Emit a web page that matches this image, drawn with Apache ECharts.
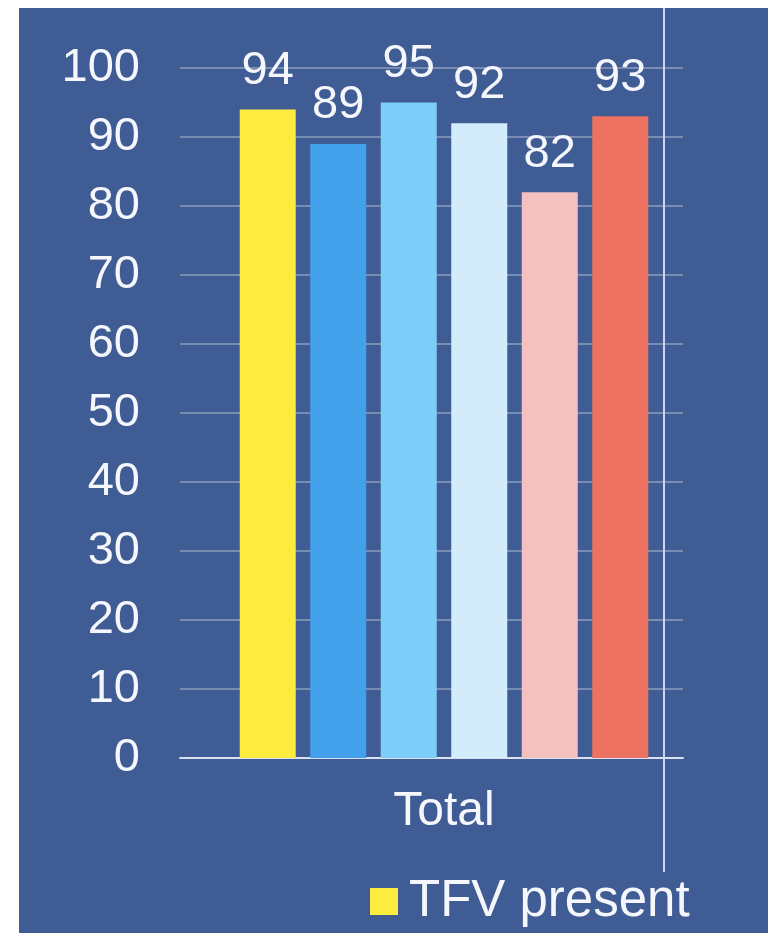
<!DOCTYPE html>
<html>
<head>
<meta charset="utf-8">
<script src="https://cdn.jsdelivr.net/npm/echarts@6/dist/echarts.min.js"></script>
<style>
  html, body { margin: 0; padding: 0; background: #ffffff; width: 777px; height: 933px; overflow: hidden; }
  #chart { position: absolute; left: 19px; top: 8px; width: 749px; height: 925px; }
</style>
</head>
<body>
<div id="chart"></div>
<script>
// Chart data
const categories = ['Total'];
const seriesNames = ['TFV present', 'Group 2', 'Group 3', 'Group 4', 'Group 5', 'Group 6'];
const seriesValues = [[94], [89], [95], [92], [82], [93]];
const seriesColors = ['#fdec3e', '#42a1ea', '#7dcdf8', '#d3ecfb', '#f4c0c0', '#ee7262'];
const yTicks = { min: 0, max: 100, interval: 10 };

const FONT = '"Liberation Sans", Arial, Helvetica, sans-serif';
const TEXT = '#f5f7fc';

const chart = echarts.init(document.getElementById('chart'), null, { renderer: 'canvas' });

const series = seriesNames.map((name, i) => ({
  name: name,
  type: 'bar',
  xAxisIndex: 1,
  yAxisIndex: 1,
  data: seriesValues[i],
  barWidth: 56,
  barGap: '25.9%',
  itemStyle: { color: seriesColors[i] },
  label: {
    show: true,
    position: 'top',
    distance: 15,
    color: TEXT,
    fontFamily: FONT,
    fontSize: 47
  }
}));

chart.setOption({
  backgroundColor: '#3f5c94',
  animation: false,
  legend: {
    data: [seriesNames[0]],
    left: 346,
    top: 863,
    icon: 'rect',
    itemWidth: 28,
    itemHeight: 27,
    textStyle: { color: TEXT, fontFamily: FONT, fontSize: 51, padding: [0, 0, 0, 6] }
  },
  grid: [
    // frame with value scale and gridlines
    { left: 161, top: 60, width: 503, height: 690, containLabel: false },
    // plotting band for the bars
    { left: 161, top: 60, width: 528, height: 690, containLabel: false }
  ],
  xAxis: [
    {
      gridIndex: 0,
      type: 'category',
      data: categories,
      axisLine: { show: true, lineStyle: { color: '#d9e0f0', width: 2 } },
      axisTick: { show: false },
      axisLabel: { show: false },
      splitLine: { show: false }
    },
    {
      gridIndex: 1,
      type: 'category',
      data: categories,
      axisLine: { show: false },
      axisTick: { show: false },
      axisLabel: { color: TEXT, fontFamily: FONT, fontSize: 48, margin: 30 },
      splitLine: { show: false }
    }
  ],
  yAxis: [
    {
      gridIndex: 0,
      type: 'value',
      min: yTicks.min,
      max: yTicks.max,
      interval: yTicks.interval,
      axisLine: { show: false },
      axisTick: { show: false },
      axisLabel: { color: TEXT, fontFamily: FONT, fontSize: 47, margin: 40 },
      splitLine: { show: true, lineStyle: { color: '#8e9cbb', width: 1.5 } }
    },
    {
      gridIndex: 1,
      type: 'value',
      min: yTicks.min,
      max: yTicks.max,
      interval: yTicks.interval,
      show: false,
      splitLine: { show: false }
    }
  ],
  graphic: [
    {
      type: 'line',
      shape: { x1: 645, y1: 0, x2: 645, y2: 864 },
      style: { stroke: '#c9d5f2', lineWidth: 2 },
      z: 1
    }
  ],
  series: series
});
</script>
</body>
</html>
